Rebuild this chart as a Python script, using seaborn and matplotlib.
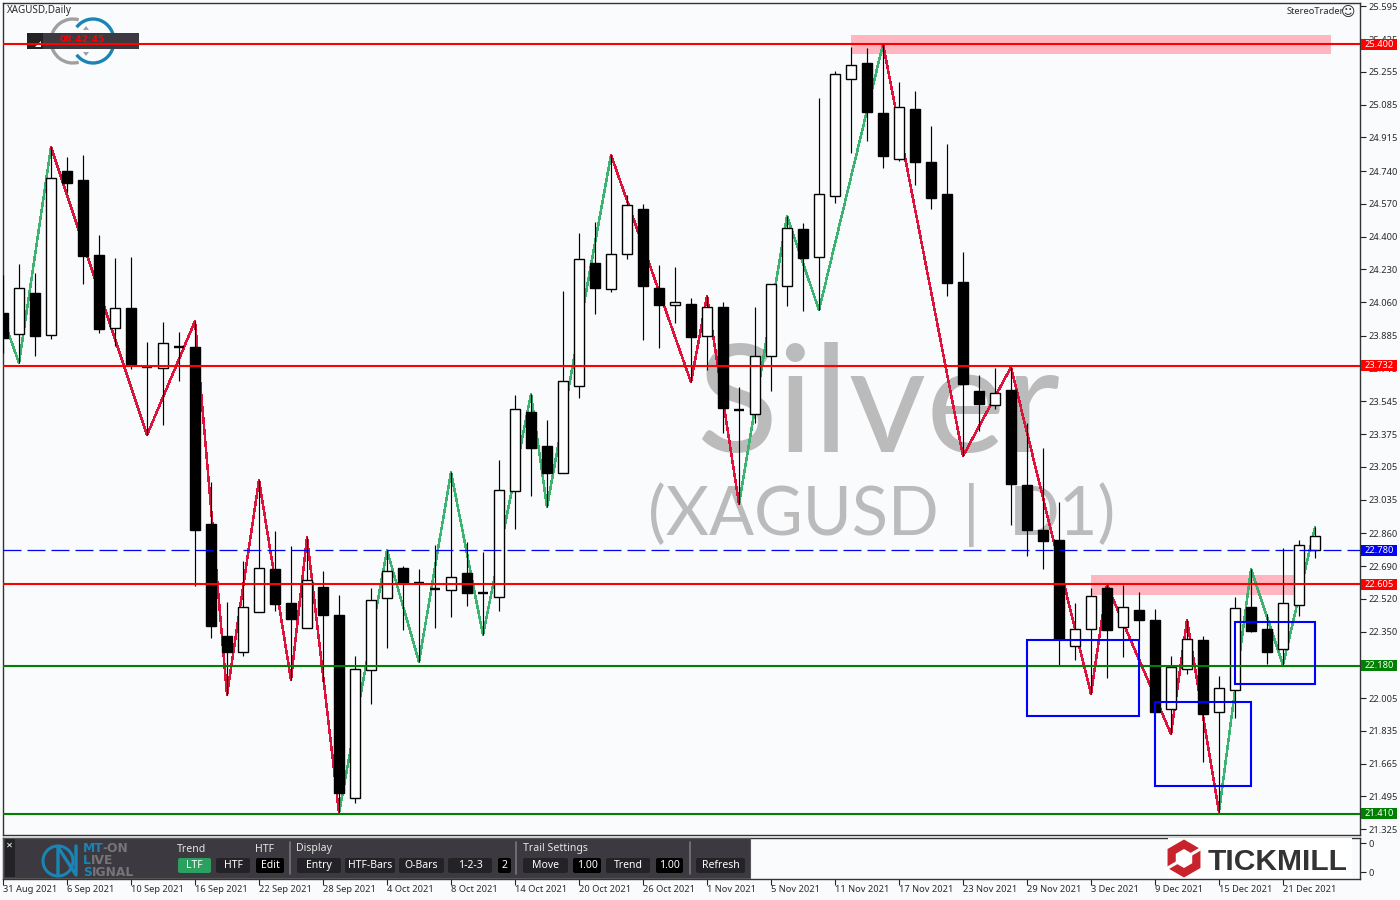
"""
XAGUSD daily candle chart with zigzag, levels and MT4 style panel
"""

import pandas as pd
import matplotlib
matplotlib.use('Agg')
import matplotlib.pyplot as plt
from matplotlib.patches import Rectangle, FancyBboxPatch, Arc, RegularPolygon, Polygon
import seaborn as sns

# ── Data ────────────────────────────────────────────────────────────────
opens = [24.004, 23.895, 24.107, 23.889, 24.741, 24.694, 24.305, 23.926, 24.029, 23.723,
         23.718, 23.827, 23.827, 22.908, 22.327, 22.244, 22.452, 22.675, 22.498, 22.369,
         22.581, 22.436, 21.486, 22.151, 22.524, 22.680, 22.602, 22.571, 22.566, 22.654,
         22.550, 22.530, 23.080, 23.490, 23.313, 23.173, 23.625, 24.263, 24.128, 24.310,
         24.543, 24.134, 24.045, 24.050, 23.884, 24.035, 23.500, 23.479, 23.780, 24.144,
         24.440, 24.294, 24.611, 25.218, 25.301, 25.042, 24.803, 25.062, 24.787, 24.621,
         24.164, 23.599, 23.526, 23.604, 23.111, 22.877, 22.825, 22.275, 22.364, 22.576,
         22.374, 22.462, 22.410, 21.948, 22.156, 22.306, 21.933, 22.047, 22.478, 22.364,
         22.260, 22.488, 22.773]
closes = [23.874, 24.134, 23.884, 24.704, 24.678, 24.299, 23.921, 24.029, 23.739, 23.723,
          23.848, 23.827, 22.877, 22.379, 22.244, 22.478, 22.680, 22.493, 22.415, 22.618,
          22.436, 21.512, 22.156, 22.514, 22.665, 22.602, 22.602, 22.571, 22.633, 22.550,
          22.550, 23.085, 23.505, 23.303, 23.173, 23.651, 24.284, 24.134, 24.310, 24.564,
          24.144, 24.045, 24.061, 23.879, 24.035, 23.510, 23.500, 23.780, 24.154, 24.445,
          24.289, 24.621, 25.244, 25.291, 25.047, 24.818, 25.073, 24.787, 24.600, 24.159,
          23.635, 23.531, 23.588, 23.116, 22.877, 22.820, 22.312, 22.364, 22.535, 22.358,
          22.478, 22.410, 21.933, 22.166, 22.312, 21.922, 22.057, 22.472, 22.353, 22.244,
          22.498, 22.799, 22.846]
highs = [24.201, 24.258, 24.211, 24.865, 24.813, 24.824, 24.408, 24.289, 24.294, 23.853,
         23.957, 23.905, 23.962, 23.126, 22.504, 22.716, 23.137, 22.872, 22.794, 22.841,
         22.665, 22.540, 22.223, 22.576, 22.773, 22.690, 22.675, 22.799, 23.178, 22.815,
         22.763, 23.241, 23.578, 23.583, 23.448, 24.118, 24.419, 24.476, 24.824, 24.616,
         24.569, 24.253, 24.242, 24.081, 24.092, 24.061, 23.619, 24.035, 24.154, 24.507,
         24.471, 25.119, 25.260, 25.384, 25.379, 25.400, 25.202, 25.156, 24.974, 24.881,
         24.320, 23.682, 23.718, 23.723, 23.433, 23.303, 23.023, 22.498, 22.576, 22.592,
         22.592, 22.556, 22.467, 22.223, 22.410, 22.327, 22.120, 22.530, 22.675, 22.441,
         22.784, 22.825, 22.893]
lows = [23.796, 23.744, 23.780, 23.869, 24.632, 24.154, 23.900, 23.832, 23.713, 23.370,
        23.422, 23.651, 22.587, 22.317, 22.021, 22.223, 22.452, 22.457, 22.099, 22.369,
        22.088, 21.409, 21.460, 21.974, 22.265, 22.358, 22.192, 22.369, 22.426, 22.483,
        22.332, 22.457, 22.883, 23.054, 22.997, 23.173, 23.562, 23.998, 24.113, 24.284,
        23.863, 23.822, 23.952, 23.645, 23.708, 23.381, 23.012, 23.433, 23.599, 24.040,
        24.014, 24.019, 24.574, 24.834, 24.896, 24.756, 24.792, 24.668, 24.543, 24.092,
        23.261, 23.391, 23.505, 22.903, 22.742, 22.675, 22.177, 22.203, 22.026, 22.109,
        22.218, 22.306, 21.933, 21.819, 22.130, 21.673, 21.414, 21.902, 22.348, 22.182,
        22.177, 22.431, 22.732]

zigzag_bar = [0, 1, 3, 9, 12, 14, 16, 18, 19, 21, 24, 26, 28, 30, 33, 34, 38, 43, 44, 46,
              49, 51, 55, 60, 63, 68, 69, 73, 74, 76, 78, 80, 82]
zigzag_price = [23.978, 23.744, 24.865, 23.370, 23.962, 22.021, 23.137, 22.099, 22.841,
                21.409, 22.773, 22.192, 23.178, 22.332, 23.583, 22.997, 24.824, 23.645,
                24.092, 23.012, 24.507, 24.019, 25.400, 23.261, 23.723, 22.026, 22.592,
                21.819, 22.410, 21.414, 22.675, 22.177, 22.893]
zigzag_trend = ['up'] * 2 + ['down'] * 7 + ['up'] * 7 + ['down'] * 3 + ['up'] * 3 + ['down'] * 7 + ['up'] * 3

level_price = [25.400, 23.729, 22.597, 22.172, 21.404]
level_label = ['25.400', '23.732', '22.605', '22.180', '21.410']
level_color = ['#FF0000', '#FF0000', '#FF0000', '#008000', '#008000']
ask_price = 22.773
ask_label = '22.780'

zone_start = [53, 68]
zone_end = [83, 81]
zone_top = [25.447, 22.644]
zone_bottom = [25.348, 22.540]

box_start = [64, 72, 77]
box_end = [71, 78, 82]
box_top = [22.306, 21.985, 22.400]
box_bottom = [21.912, 21.549, 22.078]

y_ticks = [25.595, 25.425, 25.255, 25.085, 24.915, 24.740, 24.570, 24.400, 24.230, 24.060,
           23.885, 23.715, 23.545, 23.375, 23.205, 23.035, 22.860, 22.690, 22.520, 22.350,
           22.180, 22.005, 21.835, 21.665, 21.495, 21.325]
date_labels = ['31 Aug 2021', '6 Sep 2021', '10 Sep 2021', '16 Sep 2021', '22 Sep 2021',
               '28 Sep 2021', '4 Oct 2021', '8 Oct 2021', '14 Oct 2021', '20 Oct 2021',
               '26 Oct 2021', '1 Nov 2021', '5 Nov 2021', '11 Nov 2021', '17 Nov 2021',
               '23 Nov 2021', '29 Nov 2021', '3 Dec 2021', '9 Dec 2021', '15 Dec 2021',
               '21 Dec 2021']

# ── Setup ───────────────────────────────────────────────────────────────
BG = '#F9FBFD'
PANEL = '#3C3A40'
BTN = '#232226'
TXT = '#2A2A2A'
BLUE_LOGO = '#1A85B5'
sns.set_theme(style='white')
plt.rcParams['font.family'] = ['Noto Sans', 'DejaVu Sans']
plt.rcParams['font.size'] = 6.7

W, H = 1400, 900
fig = plt.figure(figsize=(W / 100, H / 100), dpi=100, facecolor=BG)


def box_for(left, top, right, bottom):
    return [left / W, 1 - bottom / H, (right - left) / W, (bottom - top) / H]


ax = fig.add_axes(box_for(3, 3, 1360, 835), facecolor=BG)
low = fig.add_axes(box_for(3, 838, 1360, 879), facecolor=BG)
ov = fig.add_axes([0, 0, 1, 1], zorder=10)
ov.set_xlim(0, W)
ov.set_ylim(H, 0)
ov.axis('off')

# ── Price panel ─────────────────────────────────────────────────────────
bars = list(range(len(opens)))
ax.set_xlim(0, (1360 - 3) / 16)
ax.set_ylim(21.2947, 25.6128)

for s, e, t, b in zip(zone_start, zone_end, zone_top, zone_bottom):
    ax.add_patch(Rectangle((s, b), e - s, t - b, facecolor='#FFB6C1', edgecolor='none', zorder=1))

# watermark sits behind everything
for text, x, y, size in [('Silver', 696, 452, 108), ('(XAGUSD', 648, 535, 48), ('|', 963, 535, 48),
                         ('D1)', 1009, 535, 48)]:
    ax.text(x, y, text, transform=ov.transData, fontsize=size, family='Lato',
            color='#BBBBBB', ha='left', va='baseline', zorder=1.2)

# zigzag as one two-point line per leg
rows = []
for n, trend in enumerate(zigzag_trend):
    rows.append({'bar': zigzag_bar[n], 'price': zigzag_price[n], 'leg': n, 'trend': trend})
    rows.append({'bar': zigzag_bar[n + 1], 'price': zigzag_price[n + 1], 'leg': n, 'trend': trend})
zz = pd.DataFrame(rows)
sns.lineplot(data=zz, x='bar', y='price', hue='trend', units='leg', estimator=None, sort=False,
             palette={'up': '#3CB371', 'down': '#DC143C'}, linewidth=1.05, legend=False,
             antialiased=False, zorder=2, ax=ax)

# candles
ax.vlines(bars, lows, highs, color='black', linewidth=0.85, zorder=3)
body_fill = ['white' if c > o else 'black' for o, c in zip(opens, closes)]
body_edge = [1.7 if o == c else 1.0 for o, c in zip(opens, closes)]
ax.bar(bars, [c - o for o, c in zip(opens, closes)], bottom=opens, width=0.62,
       color=body_fill, edgecolor='black', linewidth=body_edge, zorder=3.5)

for price, color in zip(level_price, level_color):
    ax.axhline(price, color=color, linewidth=1.5, zorder=4)
ax.axhline(ask_price, color='#0000FF', linewidth=0.9, linestyle=(0, (14.4, 4.8)), zorder=4)

for s, e, t, b in zip(box_start, box_end, box_top, box_bottom):
    ax.add_patch(Rectangle((s, b), e - s, t - b, facecolor='none', edgecolor='#0000FF',
                           linewidth=1.5, zorder=5))

ax.yaxis.tick_right()
ax.set_yticks(y_ticks)
ax.set_yticklabels([f'{v:.3f}' for v in y_ticks], color=TXT)
ax.set_xticks([])
ax.set_xlabel('')
ax.set_ylabel('')
ax.tick_params(axis='y', direction='out', length=4, width=0.8, color='#222222', pad=2,
               labelsize=6.7, right=True)
for sp in ax.spines.values():
    sp.set_color('#333333')
    sp.set_linewidth(1.0)

ax.text(0.003, 0.991, 'XAGUSD,Daily', transform=ax.transAxes, fontsize=7.1, color=TXT, va='center')
ov.text(1287, 12, 'StereoTrader', fontsize=6.7, color=TXT, va='center', ha='left')
ov.text(1348, 12, '\u263A', fontsize=10, color=TXT, va='center', ha='center', family='DejaVu Sans')

# logo and clock under the top level line
pt = ov.transData
ax.add_patch(Arc((73, 41), 44, 44, theta1=75, theta2=285, color='#A0A0A0', linewidth=2.4,
                 transform=pt, clip_on=False, zorder=1.3))
ax.add_patch(Arc((93, 41), 42, 44, theta1=-140, theta2=140, color=BLUE_LOGO, linewidth=2.4,
                 transform=pt, clip_on=False, zorder=1.3))
for tri in ([[83, 30], [89, 30], [86, 26]], [[83, 52], [89, 52], [86, 56]]):
    ax.add_patch(Polygon(tri, facecolor='#A0A0A0', edgecolor='none', transform=pt, clip_on=False, zorder=1.3))
ax.add_patch(Rectangle((27, 33), 112, 16, facecolor=PANEL, edgecolor='none', transform=pt,
                       clip_on=False, zorder=1.5))
ax.add_patch(Rectangle((27, 33), 16, 16, facecolor='#222222', edgecolor='none', transform=pt,
                       clip_on=False, zorder=1.6))
ax.add_patch(Polygon([[35, 47], [41, 47], [41, 41]], facecolor='white', edgecolor='none',
                     transform=pt, clip_on=False, zorder=1.7))
ax.text(82, 40, '08:42:45', transform=pt, color='#FF0000', fontsize=6.6, fontweight='bold',
        family='DejaVu Sans', ha='center', va='center', zorder=1.8)

# right hand price tags
fig.canvas.draw()


def price_to_px(price):
    return H - ax.transData.transform((0, price))[1]


for price, label, color in list(zip(level_price, level_label, level_color)) + [(ask_price, ask_label, '#0000FF')]:
    y = price_to_px(price)
    ov.add_patch(Rectangle((1361, y - 5.5), 36, 11, facecolor=color, edgecolor='none'))
    ov.text(1379, y, label, color='white', fontsize=6.7, ha='center', va='center')

# ── Lower panel ─────────────────────────────────────────────────────────
low.set_xlim(ax.get_xlim())
low.set_ylim(0, 1)
low.yaxis.tick_right()
low.set_yticks([0.17, 0.87])
low.set_yticklabels(['0', '0'], color=TXT)
low.set_xticks(bars[::4])
low.set_xticklabels(date_labels, ha='left', color=TXT)
low.tick_params(axis='both', direction='out', length=4, width=0.8, color='#222222', pad=2, labelsize=6.7,
                bottom=True, right=True)
low.tick_params(axis='x', pad=0.5)
for sp in low.spines.values():
    sp.set_color('#333333')
    sp.set_linewidth(1.0)

# ── Control bar drawn over the lower panel ──────────────────────────────
ov.add_patch(Rectangle((3, 838), 747, 40, facecolor=PANEL, edgecolor='#555555', linewidth=0.8))
ov.add_patch(Rectangle((5, 839), 10, 38, facecolor='#232226', edgecolor='none'))
ov.text(9.5, 845, '\u2715', color='white', fontsize=6, ha='center', va='center', family='DejaVu Sans',
        fontweight='bold')

# MT-ON badge
ov.add_patch(Arc((58, 861), 30, 30, theta1=0, theta2=360, color=BLUE_LOGO, linewidth=2.2))
ov.plot([58, 58, 76, 76], [875, 847, 875, 846], color=BLUE_LOGO, linewidth=2.4)
logo_rows = [('MT', '-ON', 849, 83, 102), ('L', 'IVE', 861, 83, 91), ('S', 'IGNAL', 872, 83, 92)]
for head, tail, y, x0, x1 in logo_rows:
    ov.text(x0, y, head, color=BLUE_LOGO, fontsize=8.8, fontweight='bold', family='DejaVu Sans', va='center')
    ov.text(x1, y, tail, color='#75757A', fontsize=8.8, fontweight='bold', family='DejaVu Sans', va='center')

# label, x, button left, button right, fill
for text, x in [('Trend', 177), ('HTF', 255), ('Display', 296), ('Trail Settings', 523)]:
    ov.text(x, 849, text, color='#E6E6E6', fontsize=7.6, va='center')

buttons = [('LTF', 178, 211, '#2BA05F'), ('HTF', 216, 250, BTN), ('Edit', 256, 284, '#000000'),
           ('Entry', 297, 341, BTN), ('HTF-Bars', 345, 395, BTN), ('O-Bars', 399, 444, BTN),
           ('1-2-3', 448, 492, BTN), ('2', 498, 511, '#000000'), ('Move', 523, 568, BTN),
           ('1.00', 573, 601, '#000000'), ('Trend', 606, 650, BTN), ('1.00', 656, 683, '#000000'),
           ('Refresh', 696, 745, BTN)]
for text, x0, x1, fill in buttons:
    ov.add_patch(FancyBboxPatch((x0 + 1, 859), x1 - x0 - 2, 13, boxstyle='round,pad=1,rounding_size=2',
                                facecolor=fill, edgecolor='none'))
    ov.text((x0 + x1) / 2, 865.5, text, color='white', fontsize=7.5, ha='center', va='center')
for x in [290, 516, 690]:
    ov.plot([x, x], [842, 874], color='#77777C', linewidth=1.2)

# broker logo
ov.add_patch(Rectangle((1168, 838), 184, 40, facecolor='white', edgecolor='none'))
ov.add_patch(RegularPolygon((1184, 858.5), 6, radius=19, orientation=0, facecolor='#C8232C', edgecolor='none'))
ov.add_patch(RegularPolygon((1184, 858.5), 6, radius=9.5, orientation=0, facecolor='white', edgecolor='none'))
ov.plot([1166, 1178], [869, 862], color='white', linewidth=2.2)
ov.plot([1190, 1202], [855, 848], color='white', linewidth=2.2)
ov.text(1278, 858.5, 'TICKMILL', color='#333333', fontsize=21.6, fontweight='bold',
        family='Liberation Sans', ha='center', va='center_baseline')

fig.savefig('out.png', dpi=100, facecolor=BG)
plt.close(fig)
